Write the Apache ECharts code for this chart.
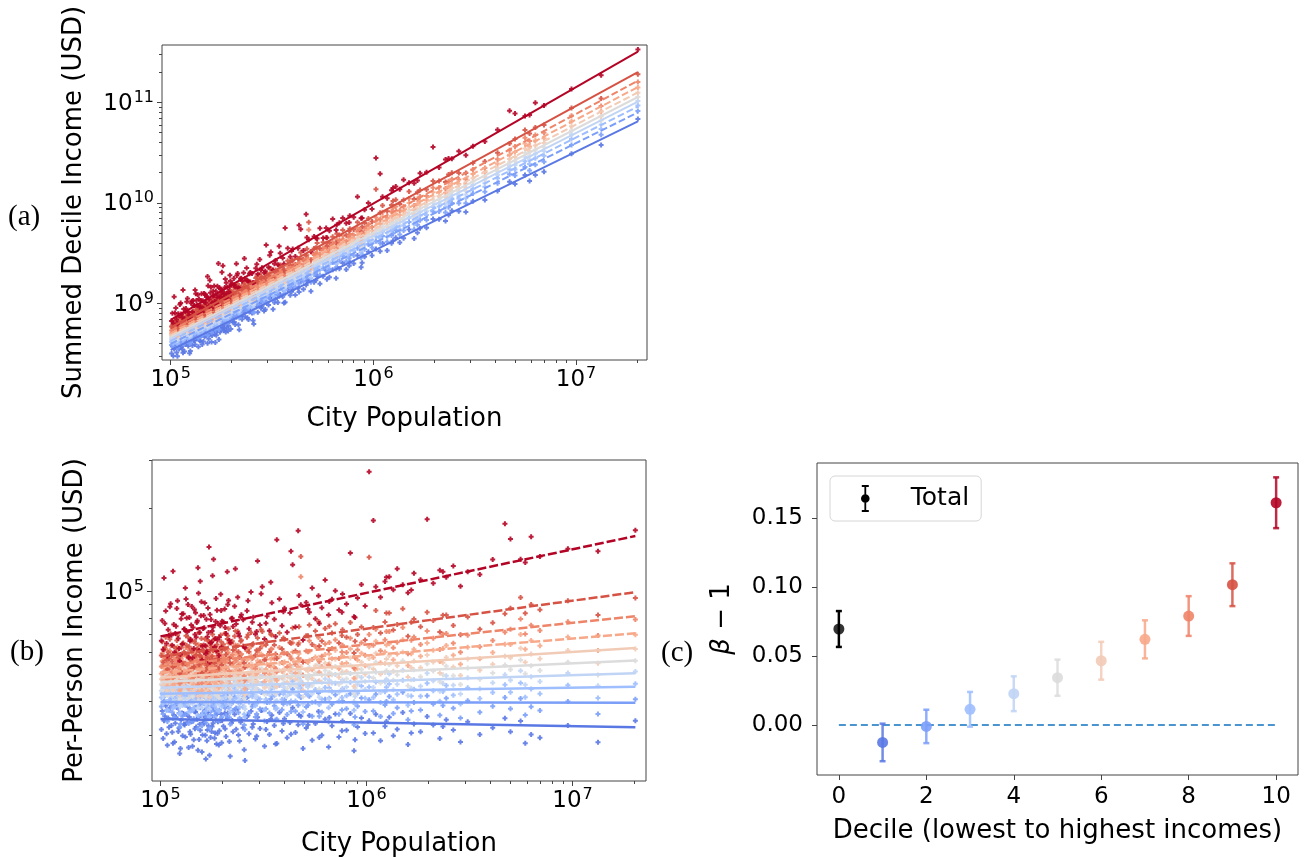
<!DOCTYPE html>
<html>
<head>
<meta charset="utf-8">
<script src="https://cdn.jsdelivr.net/npm/echarts@6/dist/echarts.min.js"></script>
<style>
  html, body { margin: 0; padding: 0; background: #fff; }
  #chart { width: 1308px; height: 857px; }
</style>
</head>
<body>
<div id="chart"></div>
<script>
// ---- City populations (thousands of people) ----
const cityPopK = [
  101,102,103,104,106,108,109,110,112,114,116,117,118,120,122,124,126,127,128,131,
  133,135,137,138,140,142,144,145,147,148,150,152,155,158,160,162,163,166,169,172,
  175,176,178,181,184,187,188,190,193,196,198,199,
  202,205,208,211,214,218,221,225,229,233,237,242,247,252,257,263,269,275,282,289,
  296,304,312,320,329,338,347,357,367,378,389,400,412,425,438,452,466,480,492,
  510,528,545,565,585,607,630,655,680,706,735,765,800,835,870,905,945,985,
  1030,1080,1110,1170,1230,1290,1350,1410,1500,1590,1700,1830,1970,2110,2270,2440,2640,2860,3100,3550,
  4100,4700,
  5000,5600,5900,6300,6950,9500,13300,20200,
  105,107,111,113,115,119,121,123,125,129,130,132,134,136,139,141,143,146,149,151,
  153,154,156,157,159,161,164,165,167,168,170,171,173,174,177,179,180,183,185,186,
  189,192,195,197,
  206,212,216,223,231,239,245,255,266,279,293,308,325,343,362,395,430,470,520,590,
  660,760,880,1250,1650,2350
];

// ---- Per-person income of each decile, one value per city (thousands of USD) ----
const decile1 = [
  31.5,36.8,29.2,33.9,38.4,27.6,34.7,32.1,40.2,30.8,35.6,28.4,33.2,37.9,31.0,25.8,34.1,36.2,29.9,32.7,
  39.1,33.5,27.1,35.0,30.3,37.2,33.8,28.9,31.7,36.5,34.4,26.5,32.9,38.8,30.1,35.3,33.1,24.6,31.4,36.9,
  29.5,34.8,32.3,37.6,30.6,27.9,35.9,33.6,31.2,39.6,28.2,34.0,
  32.4,36.1,29.7,34.6,38.0,25.2,33.3,30.9,35.8,31.6,37.4,28.6,34.2,32.0,24.3,35.1,30.4,36.7,33.0,29.1,
  34.9,31.8,37.1,27.4,33.7,30.2,35.5,32.6,28.0,36.3,31.1,34.5,29.4,33.4,37.8,30.7,32.8,35.2,26.9,
  31.9,35.4,28.8,33.1,36.6,30.0,34.3,27.2,32.5,35.9,29.6,33.8,31.3,36.0,26.4,32.2,34.7,30.5,
  33.9,30.6,35.8,28.7,32.4,34.9,29.9,31.6,36.3,27.8,33.0,30.9,35.1,32.7,29.2,34.2,31.4,28.4,33.6,30.2,
  32.0,34.6,
  30.9,33.8,28.1,30.2,29.4,32.6,28.3,33.9,
  35.2,30.4,37.7,32.6,28.1,34.9,39.3,31.9,26.9,36.0,33.0,29.6,35.7,38.1,30.9,33.6,27.4,36.6,32.2,34.3,
  40.8,29.0,31.3,35.4,26.1,33.4,37.0,30.0,34.6,28.7,36.4,32.5,25.4,35.0,31.0,38.6,33.2,29.3,34.1,36.8,
  30.5,27.7,33.9,35.8,
  31.7,36.2,28.5,34.0,37.3,30.1,33.5,26.6,35.5,32.1,29.8,36.9,31.5,34.4,27.9,33.1,30.3,35.6,32.8,29.5,
  34.8,31.2,28.9,33.7,30.6,32.3
];
const decile2 = [
  38.2,42.6,35.9,40.1,44.8,33.7,39.4,37.0,46.1,36.4,41.3,34.8,38.9,43.5,37.6,32.2,40.7,42.0,35.3,39.0,
  45.2,38.6,33.1,41.0,36.8,43.1,39.8,34.5,37.9,42.3,40.3,31.8,38.5,44.2,36.1,41.6,39.2,33.4,37.3,42.9,
  35.6,40.9,38.0,43.8,36.6,34.1,41.8,39.6,37.1,45.7,34.9,40.0,
  38.7,41.9,35.4,40.5,43.9,32.9,39.1,36.9,41.4,37.7,43.2,34.6,40.2,38.1,31.5,41.1,36.3,42.7,38.8,35.0,
  40.8,37.4,43.0,33.8,39.5,36.2,41.7,38.4,34.3,42.4,37.2,40.4,35.7,39.3,44.1,36.7,38.6,41.2,33.0,
  38.0,41.6,35.2,39.7,42.8,36.4,40.6,33.6,38.9,42.1,35.8,40.0,37.5,42.5,32.8,38.3,41.0,36.6,
  40.4,36.8,42.3,35.1,38.7,41.5,36.0,37.8,43.0,34.2,39.5,37.1,41.8,39.0,35.5,40.9,37.6,34.7,40.1,36.4,
  38.3,41.2,
  37.5,40.8,35.6,38.1,36.9,39.8,35.9,40.6,
  41.8,37.0,43.9,38.4,34.6,40.6,45.3,36.2,33.0,42.2,39.1,35.8,41.4,44.5,37.3,39.9,33.7,42.7,38.0,40.2,
  46.5,35.1,37.8,41.1,32.5,39.5,43.4,36.0,40.8,34.9,42.5,38.9,31.9,41.3,36.9,44.9,39.2,35.4,40.4,43.1,
  36.5,33.9,39.7,42.0,
  37.6,42.3,34.8,40.1,43.6,36.3,39.6,32.7,41.5,38.2,35.9,43.0,37.4,40.7,34.1,39.0,36.6,41.9,38.6,35.2,
  40.9,37.1,35.0,39.8,36.8,38.5
];
const decile3 = [
  41.2,45.6,39.0,43.3,47.4,37.1,42.4,40.3,48.6,39.5,44.4,38.0,42.0,46.2,40.8,35.9,43.8,45.0,38.6,42.1,
  47.9,41.7,36.5,44.0,39.9,46.0,42.9,37.7,41.0,45.3,43.4,35.4,41.5,47.0,39.2,44.7,42.3,36.8,40.5,45.9,
  38.9,43.9,41.1,46.6,39.7,37.4,44.9,42.6,40.1,48.2,38.3,43.1,
  42.0,45.2,38.8,43.7,47.0,36.3,42.5,40.2,44.6,41.0,46.4,37.9,43.5,41.5,35.0,44.3,39.6,45.9,42.2,38.4,
  44.0,40.7,46.1,37.2,42.8,39.5,45.0,41.8,37.6,45.5,40.5,43.6,39.1,42.6,47.2,40.0,41.9,44.5,36.5,
  42.4,45.9,39.5,44.0,47.1,40.6,44.8,37.8,43.2,46.4,40.0,44.3,41.8,46.8,37.0,42.7,45.3,40.9,
  45.0,41.2,46.9,39.5,43.2,46.1,40.4,42.3,47.6,38.6,44.1,41.6,46.4,43.6,39.9,45.5,42.0,39.0,44.7,40.8,
  42.9,45.8,
  43.0,46.5,41.3,44.2,42.5,45.6,41.0,46.2,
  44.1,39.8,46.8,41.3,37.6,43.6,48.0,38.9,36.2,45.2,42.2,38.5,44.6,47.3,40.2,42.8,36.9,45.8,41.0,43.2,
  49.0,38.1,40.7,44.2,35.6,42.5,46.4,39.0,43.9,37.9,45.6,41.9,35.0,44.4,39.6,47.8,42.1,38.3,43.4,46.1,
  39.3,36.7,42.7,45.0,
  40.8,45.5,37.8,43.1,46.9,39.4,42.9,35.8,44.8,41.4,39.2,46.3,40.6,44.0,37.4,42.4,40.0,45.7,42.0,38.8,
  44.6,41.2,39.0,44.9,41.7,43.3
];
const decile4 = [
  43.6,48.2,41.5,45.7,49.9,39.6,44.8,42.7,51.0,41.9,46.8,40.4,44.4,48.7,43.1,38.2,46.2,47.5,41.0,44.5,
  50.4,44.1,38.9,46.5,42.3,48.5,45.3,40.1,43.4,47.8,45.9,37.7,43.9,49.5,41.6,47.2,44.7,39.2,42.9,48.4,
  41.3,46.4,43.5,49.1,42.1,39.8,47.4,45.0,42.5,50.7,40.7,45.6,
  44.8,48.3,41.4,46.6,50.1,38.8,45.3,42.9,47.6,43.7,49.4,40.4,46.3,44.2,37.4,47.2,42.2,48.9,45.0,41.0,
  46.9,43.4,49.1,39.7,45.6,42.1,48.0,44.6,40.1,48.5,43.2,46.5,41.7,45.4,50.3,42.6,44.7,47.4,38.9,
  45.6,49.4,42.5,47.3,50.7,43.7,48.2,40.7,46.5,49.9,43.0,47.7,45.0,50.3,39.8,46.0,48.7,44.0,
  48.9,44.8,51.0,42.9,46.9,50.1,43.9,46.0,51.7,41.9,47.9,45.2,50.4,47.4,43.4,49.4,45.6,42.4,48.6,44.3,
  46.6,49.8,
  47.6,51.5,45.8,49.0,47.1,50.5,45.4,51.2,
  46.5,42.1,49.2,43.6,39.8,46.0,50.5,41.1,38.5,47.6,44.5,40.7,47.0,49.8,42.5,45.2,39.1,48.3,43.3,45.6,
  51.4,40.3,43.0,46.6,37.9,44.9,48.9,41.3,46.3,40.1,48.1,44.2,37.3,46.9,41.9,50.3,44.4,40.5,45.8,48.6,
  41.6,38.9,45.1,47.4,
  43.2,48.1,40.1,45.7,49.6,41.8,45.4,38.2,47.5,43.9,41.6,49.1,43.0,46.7,39.8,45.0,42.7,48.6,44.9,41.3,
  47.6,43.9,41.5,48.0,44.5,46.3
];
const decile5 = [
  46.0,50.9,43.8,48.2,52.7,41.8,47.3,45.1,53.8,44.2,49.4,42.6,46.9,51.4,45.5,40.3,48.8,50.1,43.3,47.0,
  53.2,46.5,41.0,49.1,44.7,51.2,47.8,42.3,45.8,50.4,48.4,39.8,46.3,52.2,43.9,49.8,47.2,41.4,45.3,51.1,
  43.6,49.0,45.9,51.8,44.4,42.0,50.0,47.5,44.9,53.5,42.9,48.1,
  47.7,51.5,44.1,49.7,53.4,41.3,48.3,45.7,50.7,46.6,52.6,43.0,49.3,47.1,39.9,50.3,45.0,52.1,47.9,43.7,
  50.0,46.2,52.3,42.3,48.6,44.8,51.1,47.5,42.7,51.7,46.0,49.6,44.4,48.4,53.6,45.4,47.6,50.5,41.4,
  48.8,52.9,45.5,50.6,54.3,46.8,51.6,43.6,49.8,53.4,46.0,51.1,48.2,53.9,42.6,49.3,52.1,47.1,
  53.0,48.5,55.3,46.5,50.8,54.3,47.6,49.8,56.0,45.4,51.9,49.0,54.6,51.4,47.0,53.5,49.4,45.9,52.7,48.0,
  50.5,54.0,
  52.1,56.4,50.2,53.7,51.6,55.3,49.7,56.0,
  49.1,44.5,52.0,46.1,42.1,48.6,53.3,43.5,40.8,50.3,47.0,43.1,49.6,52.6,44.9,47.7,41.4,51.0,45.8,48.2,
  54.2,42.7,45.4,49.2,40.2,47.4,51.6,43.7,48.9,42.4,50.8,46.7,39.6,49.5,44.3,53.1,46.9,42.8,48.4,51.3,
  44.0,41.2,47.6,50.0,
  46.1,51.2,42.9,48.7,52.7,44.7,48.4,40.9,50.6,46.9,44.5,52.3,46.0,49.8,42.6,48.0,45.7,51.8,48.0,44.2,
  50.9,46.9,44.6,51.5,47.8,49.8
];
const decile6 = [
  48.0,53.1,45.7,50.3,55.0,43.6,49.4,47.1,56.2,46.1,51.6,44.5,49.0,53.7,47.5,42.1,51.0,52.3,45.2,49.1,
  55.6,48.6,42.8,51.3,46.7,53.5,49.9,44.2,47.8,52.6,50.5,41.6,48.4,54.5,45.8,52.0,49.3,43.2,47.3,53.4,
  45.5,51.2,47.9,54.1,46.4,43.9,52.2,49.6,46.9,55.9,44.8,50.2,
  50.4,54.5,46.6,52.6,56.5,43.7,51.1,48.3,53.6,49.3,55.6,45.5,52.1,49.8,42.2,53.2,47.6,55.1,50.6,46.2,
  52.9,48.8,55.3,44.7,51.4,47.4,54.0,50.2,45.1,54.7,48.6,52.4,46.9,51.2,56.7,48.0,50.3,53.4,43.8,
  51.8,56.2,48.3,53.7,57.7,49.7,54.8,46.3,52.9,56.7,48.8,54.3,51.2,57.3,45.2,52.4,55.3,50.0,
  57.1,52.3,59.6,50.1,54.7,58.5,51.3,53.7,60.3,48.9,55.9,52.8,58.8,55.4,50.6,57.6,53.2,49.5,56.8,51.7,
  54.4,58.2,
  57.4,62.2,55.3,59.2,56.9,61.0,54.8,61.8,
  51.3,46.4,54.4,48.1,43.9,50.7,55.8,45.3,42.5,52.6,49.1,44.9,51.8,55.0,46.8,49.8,43.2,53.3,47.8,50.3,
  56.7,44.6,47.4,51.4,41.9,49.5,53.9,45.6,51.0,44.2,53.1,48.7,41.3,51.7,46.2,55.5,49.0,44.7,50.5,53.6,
  45.9,43.0,49.7,52.2,
  48.6,54.0,45.2,51.4,55.6,47.2,51.1,43.2,53.6,49.7,47.2,55.5,48.9,53.0,45.3,51.2,48.8,55.4,51.4,47.4,
  54.9,50.6,48.2,56.8,52.8,55.1
];
const decile7 = [
  50.2,55.9,47.6,52.7,57.9,45.2,51.6,49.1,59.4,48.0,54.1,46.3,51.2,56.5,49.6,43.6,53.4,54.9,47.1,51.3,
  58.6,50.8,44.4,53.8,48.7,56.3,52.3,46.0,49.9,55.2,52.9,43.1,50.5,57.3,47.8,54.6,51.5,45.0,49.4,56.1,
  47.4,53.6,50.0,56.9,48.4,45.7,54.8,51.9,49.0,58.9,46.7,52.5,
  53.2,57.8,49.1,55.6,60.0,45.9,53.9,50.9,56.8,52.0,59.0,47.9,55.1,52.6,44.3,56.3,50.2,58.4,53.5,48.7,
  56.0,51.5,58.7,47.1,54.3,50.0,57.3,53.0,47.5,58.0,51.3,55.4,49.4,54.1,60.3,50.6,53.1,56.6,46.1,
  55.7,60.6,51.9,57.8,62.2,53.4,59.0,49.6,56.9,61.1,52.4,58.4,55.0,61.8,48.4,56.3,59.6,53.7,
  63.0,57.6,65.9,55.1,60.3,64.6,56.5,59.2,66.7,53.8,61.7,58.1,65.0,61.1,55.7,63.6,58.6,54.4,62.7,56.9,
  60.0,64.3,
  64.2,69.8,61.7,66.3,63.5,68.3,61.0,69.6,
  53.7,48.5,57.0,50.3,45.8,53.0,58.6,47.3,44.3,55.1,51.4,46.9,54.3,57.7,48.9,52.1,45.1,55.9,50.0,52.7,
  59.6,46.6,49.6,53.9,43.7,51.8,56.6,47.6,53.5,46.2,55.7,51.0,43.1,54.3,48.3,58.3,51.4,46.7,53.0,56.3,
  48.0,44.9,52.1,54.8,
  51.5,57.3,47.9,54.6,59.1,50.1,54.3,45.8,57.0,52.8,50.2,59.2,52.2,56.7,48.4,54.8,52.3,59.4,55.2,50.9,
  59.2,54.7,52.2,63.9,59.4,62.0
];
const decile8 = [
  53.4,59.6,50.6,56.1,61.8,48.0,54.9,52.2,63.5,51.0,57.6,49.2,54.4,60.2,52.8,46.3,56.9,58.5,50.1,54.6,
  62.6,54.0,47.2,57.3,51.8,60.0,55.7,48.9,53.1,58.8,56.3,45.8,53.7,61.2,50.8,58.2,54.8,47.8,52.5,59.8,
  50.4,57.1,53.2,60.7,51.5,48.6,58.4,55.2,52.1,62.9,49.7,55.9,
  57.3,62.3,52.8,59.9,64.8,49.3,58.0,54.8,61.2,56.0,63.6,51.5,59.3,56.6,47.6,60.7,54.0,63.0,57.6,52.4,
  60.3,55.4,63.4,50.6,58.5,53.8,61.8,57.0,51.1,62.6,55.2,59.7,53.1,58.2,65.1,54.4,57.2,113.0,49.6,
  60.8,66.2,56.6,63.1,68.0,58.2,64.4,54.1,62.1,66.8,57.1,63.8,60.0,67.6,52.7,61.4,65.1,58.6,
  69.7,63.7,72.9,60.9,66.7,71.5,62.5,65.4,73.9,59.4,68.3,64.2,71.9,67.6,61.5,70.4,64.8,60.1,69.3,62.9,
  66.3,71.1,
  72.9,79.4,70.1,75.3,72.1,77.6,69.2,79.1,
  57.2,51.5,60.9,53.6,48.6,56.5,62.8,50.3,47.0,58.9,54.8,49.9,58.0,61.8,52.2,55.7,48.0,59.9,53.4,56.3,
  64.0,49.6,52.9,57.7,46.4,55.4,60.8,50.7,57.3,49.2,59.8,54.6,45.8,58.3,51.6,62.8,55.1,49.8,56.9,60.6,
  51.3,47.9,55.9,58.9,
  55.3,61.8,51.4,58.9,63.9,54.0,58.7,49.3,61.8,57.1,54.3,64.4,56.6,61.7,52.5,59.7,57.0,65.1,60.4,55.6,
  65.2,60.2,57.4,71.6,66.5,69.9
];
const decile9 = [
  58.5,65.6,55.2,61.4,68.1,52.2,60.1,57.0,70.2,55.7,63.1,53.6,59.6,66.3,57.7,50.3,62.4,64.3,54.6,59.8,
  69.1,59.1,51.4,62.9,56.6,66.0,61.0,53.3,58.0,64.7,61.7,49.7,58.7,67.4,55.4,63.9,60.0,52.0,57.4,65.8,
  55.0,62.6,58.2,66.8,56.2,52.9,64.1,60.4,56.9,69.5,54.1,61.2,
  64.3,70.3,59.0,67.2,73.2,55.0,65.0,61.3,68.8,62.8,71.7,57.5,66.5,63.4,53.0,68.2,60.4,71.0,64.6,58.6,
  67.7,62.0,71.5,56.5,65.6,60.2,69.5,63.9,57.1,70.6,61.8,67.0,59.4,65.3,73.6,60.8,64.1,134.0,55.4,
  69.1,75.6,64.2,71.8,77.7,66.1,73.3,61.3,70.6,76.3,64.9,72.6,68.2,77.2,59.7,69.8,74.2,66.6,
  133.0,73.9,85.2,70.6,77.5,83.5,72.5,75.9,86.5,68.8,79.4,74.5,84.0,78.5,71.3,82.1,75.2,69.6,80.7,72.9,
  76.9,83.0,
  86.8,95.0,83.3,89.7,85.8,92.6,82.1,94.6,
  62.8,56.3,67.0,58.7,53.1,62.1,69.3,55.0,51.3,64.9,60.2,54.6,63.8,68.2,57.2,61.2,52.5,66.1,58.6,61.9,
  70.8,54.3,58.1,63.6,50.6,61.0,67.2,55.6,63.2,53.9,66.2,60.2,50.0,64.5,56.7,69.8,61.0,54.9,63.0,67.4,
  56.6,52.7,62.1,65.6,
  61.6,69.1,57.2,65.9,71.8,60.4,65.9,55.0,69.6,64.2,61.1,72.8,63.9,69.9,59.3,67.8,64.8,74.4,69.0,63.4,
  74.8,69.2,65.9,83.5,77.3,81.9
];
const decile10 = [
  66.2,78.4,61.5,112.0,84.9,58.3,72.6,69.0,90.3,63.7,75.8,60.1,70.4,86.7,67.5,55.9,79.6,82.8,64.4,73.1,
  93.8,71.3,57.6,80.4,66.9,88.2,74.0,62.0,69.8,83.6,77.2,122.0,70.9,91.7,63.3,81.7,73.8,59.4,68.4,145.0,
  65.0,79.0,71.8,131.0,67.3,60.8,85.5,76.4,68.1,97.6,62.7,77.9,
  77.5,86.3,70.4,118.0,92.8,65.1,79.8,74.6,88.4,76.1,95.2,68.7,82.3,78.9,62.4,85.0,73.2,99.5,80.6,69.9,
  129.0,75.5,104.0,67.2,81.2,72.0,91.0,79.2,154.0,93.9,75.0,86.9,71.1,83.5,125.0,74.3,166.0,89.5,66.6,
  91.2,84.0,103.0,79.5,96.4,87.3,110.0,82.1,93.6,100.5,85.6,97.8,90.0,138.0,81.0,94.7,106.0,88.6,
  272.0,181.0,104.0,95.3,108.7,113.0,101.5,121.0,105.8,99.0,116.4,110.2,183.0,107.0,119.5,112.6,123.8,104.5,118.0,115.3,
  130.5,176.0,
  155.0,131.0,127.5,158.0,134.0,143.0,140.0,167.0,
  76.5,64.7,88.0,69.3,118.5,74.8,92.6,62.1,59.0,83.0,72.9,103.0,80.1,89.7,66.0,75.6,57.4,86.0,68.2,78.3,
  98.4,61.2,109.0,81.6,56.4,73.4,90.8,63.5,79.2,60.6,87.1,71.0,55.3,82.4,65.4,114.0,74.1,62.8,77.8,94.2,
  66.7,58.5,75.1,85.2,
  74.0,89.6,66.5,79.9,121.0,70.4,80.7,63.0,92.5,77.3,71.5,98.0,76.6,108.0,68.6,84.4,140.0,96.7,86.3,76.4,
  92.0,84.1,80.5,112.5,101.3,118.0
];
const decileIncomes = [decile1, decile2, decile3, decile4, decile5, decile6, decile7, decile8, decile9, decile10];

// ---- Fitted scaling lines: per-person income (thousands of USD) at both ends of the fit ----
const fitPopRangeK = [100, 20200];
const fitStartK = [34.4, 39.7, 42.5, 44.7, 46.9, 48.6, 50.7, 53.5, 58.0, 68.6];
const fitEndK   = [32.1, 39.4, 45.1, 50.4, 56.1, 62.3, 70.5, 81.3, 99.4, 159.0];

// ---- Scaling exponents (beta - 1): index 0 is the total, 1..10 are the deciles ----
const betaCategories = [0, 1, 2, 3, 4, 5, 6, 7, 8, 9, 10];
const betaMinusOne = [0.0696, -0.0126, -0.0010, 0.0114, 0.0227, 0.0343, 0.0466, 0.0621, 0.0790, 0.1017, 0.1611];
const betaError    = [0.0130, 0.0136, 0.0121, 0.0126, 0.0126, 0.0131, 0.0137, 0.0138, 0.0144, 0.0155, 0.0184];

// ---- Tick labels ----
const xMajorTicks = [1e5, 1e6, 1e7];
const yMajorTicksA = [1e9, 1e10, 1e11];
const yMajorTicksB = [1e5];
const xTicksC = [0, 2, 4, 6, 8, 10];
const yTicksC = [0, 0.05, 0.10, 0.15];

// ---- Styling ----
const FONT = 'DejaVu Sans';
const decileColors = ['#5a78e4', '#7b9ff9', '#9ebeff', '#c0d4f5', '#dddcdc',
                      '#f2cbb7', '#f7a889', '#ee8468', '#d65244', '#b40426'];
const dashA = [false, true, true, false, false, true, true, true, false, false];
const dashB = [false, false, false, false, false, false, true, true, true, true];
const plusMarker = 'path://M2.4,0H5.6V2.4H8V5.6H5.6V8H2.4V5.6H0V2.4H2.4Z';
const AXIS_COLOR = '#444';
const TICK_FONT = 23;
const NAME_FONT = 26;

const rangeA = { xMin: 90600, xMax: 2.24e7, yMin: 2.74e8, yMax: 3.73e11 };
const rangeB = { xMin: 90940, xMax: 2.275e7, yMin: 20480, yMax: 300300 };

function minorTicks(lo, hi) {
  const out = [];
  for (let e = Math.floor(Math.log10(lo)); e <= Math.ceil(Math.log10(hi)); e++) {
    for (let m = 2; m <= 9; m++) {
      const v = m * Math.pow(10, e);
      if (v >= lo && v <= hi) out.push(v);
    }
  }
  return out;
}

const powRich = {
  b: { fontSize: TICK_FONT, fontFamily: FONT, color: '#000', padding: [3, 0, 0, 0], verticalAlign: 'bottom' },
  s: { fontSize: 16, fontFamily: FONT, color: '#000', verticalAlign: 'top', padding: [0, 0, 0, 1] }
};
const powLabel = v => '{b|10}{s|' + Math.round(Math.log10(v)) + '}';
const nameStyle = { fontSize: NAME_FONT, fontFamily: FONT, color: '#000' };

function logAxisPair(gridIndex, min, max, majors, isX, name, nameGap, margin) {
  const pos = isX ? 'bottom' : 'left';
  const major = {
    type: 'log', logBase: 10, gridIndex, min, max, position: pos,
    axisLine: { show: false, onZero: false },
    axisTick: { show: true, customValues: majors, length: 5, lineStyle: { color: AXIS_COLOR, width: 1 } },
    axisLabel: { customValues: majors, formatter: powLabel, rich: powRich, margin, color: '#000' },
    splitLine: { show: false },
    minorTick: { show: false },
    name, nameLocation: 'middle', nameGap, nameTextStyle: nameStyle
  };
  const minor = {
    type: 'log', logBase: 10, gridIndex, min, max, position: pos,
    axisLine: { show: false, onZero: false },
    axisTick: { show: true, customValues: minorTicks(min, max), length: 3, lineStyle: { color: AXIS_COLOR, width: 1 } },
    axisLabel: { show: false },
    splitLine: { show: false }
  };
  return [major, minor];
}

const [xA, xAm] = logAxisPair(0, rangeA.xMin, rangeA.xMax, xMajorTicks, true, 'City Population', 46, 6);
const [yA, yAm] = logAxisPair(0, rangeA.yMin, rangeA.yMax, yMajorTicksA, false, 'Summed Decile Income (USD)', 75, 8);
const [xB, xBm] = logAxisPair(1, rangeB.xMin, rangeB.xMax, xMajorTicks, true, 'City Population', 50, 6);
const [yB, yBm] = logAxisPair(1, rangeB.yMin, rangeB.yMax, yMajorTicksB, false, 'Per-Person Income (USD)', 64, 8);

const xC = {
  type: 'value', gridIndex: 2, min: -0.5, max: 10.5, position: 'bottom',
  axisLine: { show: false, onZero: false },
  axisTick: { show: true, customValues: xTicksC, length: 5, lineStyle: { color: AXIS_COLOR } },
  axisLabel: { customValues: xTicksC, fontSize: TICK_FONT, fontFamily: FONT, color: '#000', margin: 11 },
  splitLine: { show: false },
  name: 'Decile (lowest to highest incomes)', nameLocation: 'middle', nameGap: 43, nameTextStyle: nameStyle
};
const yC = {
  type: 'value', gridIndex: 2, min: -0.0362, max: 0.1899, position: 'left',
  axisLine: { show: false, onZero: false },
  axisTick: { show: true, customValues: yTicksC, length: 5, lineStyle: { color: AXIS_COLOR } },
  axisLabel: { customValues: yTicksC, fontSize: TICK_FONT, fontFamily: FONT, color: '#000', margin: 14,
               formatter: v => v.toFixed(2) },
  splitLine: { show: false },
  name: '{i|β} − 1', nameLocation: 'middle', nameGap: 82,
  nameTextStyle: { fontSize: NAME_FONT, fontFamily: FONT, color: '#000',
                   rich: { i: { fontSize: NAME_FONT, fontFamily: FONT, fontStyle: 'italic', color: '#000' } } }
};

// ---- Series ----
const series = [];
decileIncomes.forEach((vals, d) => {
  const color = decileColors[d];
  // (a) summed income of the decile = per-person income x decile population (one tenth of the city)
  series.push({
    type: 'scatter', xAxisIndex: 0, yAxisIndex: 0, silent: true,
    symbol: plusMarker, symbolSize: 5, itemStyle: { color, opacity: 0.9 },
    data: vals.map((v, i) => [cityPopK[i] * 1e3, v * 1e3 * cityPopK[i] * 1e3 / 10])
  });
  series.push({
    type: 'line', xAxisIndex: 0, yAxisIndex: 0, silent: true, showSymbol: false,
    lineStyle: { color, width: 2, type: dashA[d] ? [7, 3] : 'solid' },
    data: fitPopRangeK.map((p, j) => [p * 1e3, (j ? fitEndK[d] : fitStartK[d]) * 1e3 * p * 1e3 / 10])
  });
});
decileIncomes.forEach((vals, d) => {
  const color = decileColors[d];
  series.push({
    type: 'scatter', xAxisIndex: 2, yAxisIndex: 2, silent: true,
    symbol: plusMarker, symbolSize: 5, itemStyle: { color, opacity: 0.9 },
    data: vals.map((v, i) => [cityPopK[i] * 1e3, v * 1e3])
  });
  series.push({
    type: 'line', xAxisIndex: 2, yAxisIndex: 2, silent: true, showSymbol: false,
    lineStyle: { color, width: 2.5, type: dashB[d] ? [9, 3] : 'solid' },
    data: fitPopRangeK.map((p, j) => [p * 1e3, (j ? fitEndK[d] : fitStartK[d]) * 1e3])
  });
});

const betaColors = ['#000000'].concat(decileColors);

// (c) reference line at zero
series.push({
  type: 'line', xAxisIndex: 4, yAxisIndex: 4, silent: true, showSymbol: false, z: 1,
  lineStyle: { color: '#4a94d0', width: 2, type: [7, 4] },
  data: [[betaCategories[0], 0], [betaCategories[betaCategories.length - 1], 0]]
});
// (c) error bars with caps
series.push({
  type: 'custom', name: 'errorbars', xAxisIndex: 4, yAxisIndex: 4, silent: true,
  encode: { x: 0, y: [1, 2] },
  data: betaCategories.map((c, i) => [c, betaMinusOne[i] - betaError[i], betaMinusOne[i] + betaError[i]]),
  renderItem(params, api) {
    const x = api.value(0);
    const lo = api.coord([x, api.value(1)]);
    const hi = api.coord([x, api.value(2)]);
    const color = betaColors[params.dataIndex];
    const op = params.dataIndex === 0 ? 1 : 0.85;
    const cw = 3;
    const st = { stroke: color, lineWidth: 2.5, opacity: op };
    return {
      type: 'group', children: [
        { type: 'line', shape: { x1: lo[0], y1: lo[1], x2: hi[0], y2: hi[1] }, style: st },
        { type: 'line', shape: { x1: lo[0] - cw, y1: lo[1], x2: lo[0] + cw, y2: lo[1] }, style: st },
        { type: 'line', shape: { x1: hi[0] - cw, y1: hi[1], x2: hi[0] + cw, y2: hi[1] }, style: st }
      ]
    };
  }
});
series.push({
  type: 'scatter', name: 'Total', xAxisIndex: 4, yAxisIndex: 4, silent: true,
  symbol: 'circle', symbolSize: 11, itemStyle: { color: '#000000' },
  data: [[betaCategories[0], betaMinusOne[0]]]
});
series.push({
  type: 'scatter', name: 'Deciles', xAxisIndex: 4, yAxisIndex: 4, silent: true,
  symbol: 'circle', symbolSize: 11,
  itemStyle: { color: p => betaColors[p.dataIndex + 1], opacity: 0.9 },
  data: betaCategories.slice(1).map((c, i) => [c, betaMinusOne[i + 1]])
});

// legend marker: capped error bar with a dot (all sub-paths wound the same way)
const totalIcon = 'path://M1,0H8V2H1Z M3.6,2H5.4V25H3.6Z M1,25H8V27H1Z M0.2,13.5A4.3,4.3 0 1 1 8.8,13.5A4.3,4.3 0 1 1 0.2,13.5Z';

const gridBox = { show: true, borderColor: AXIS_COLOR, borderWidth: 1, backgroundColor: 'transparent', outerBoundsMode: 'none' };

const option = {
  animation: false,
  backgroundColor: '#ffffff',
  textStyle: { fontFamily: FONT },
  grid: [
    Object.assign({ left: 162, top: 45, width: 485, height: 315 }, gridBox),
    Object.assign({ left: 152, top: 460, width: 494, height: 321 }, gridBox),
    Object.assign({ left: 817, top: 463, width: 481, height: 312 }, gridBox)
  ],
  xAxis: [xA, xAm, xB, xBm, xC],
  yAxis: [yA, yAm, yB, yBm, yC],
  legend: {
    data: [{ name: 'Total', icon: totalIcon, itemStyle: { color: '#000', opacity: 1 } }],
    left: 830, top: 476, orient: 'horizontal', selectedMode: false,
    itemWidth: 9, itemHeight: 27,
    padding: [9, 12, 9, 31],
    borderColor: '#d6d6d6', borderWidth: 1, borderRadius: 5,
    backgroundColor: 'rgba(255,255,255,0.8)',
    textStyle: { fontSize: 25, fontFamily: FONT, color: '#000', padding: [0, 0, 0, 36] }
  },
  graphic: [
    { type: 'text', x: 8, y: 217, style: { text: '(a)', fontSize: 29, fontFamily: 'Liberation Serif', fill: '#000', verticalAlign: 'middle' } },
    { type: 'text', x: 10, y: 652, style: { text: '(b)', fontSize: 29, fontFamily: 'Liberation Serif', fill: '#000', verticalAlign: 'middle' } },
    { type: 'text', x: 661, y: 653, style: { text: '(c)', fontSize: 29, fontFamily: 'Liberation Serif', fill: '#000', verticalAlign: 'middle' } }
  ],
  series
};

const chart = echarts.init(document.getElementById('chart'), null, { renderer: 'canvas' });
chart.setOption(option);
</script>
</body>
</html>
